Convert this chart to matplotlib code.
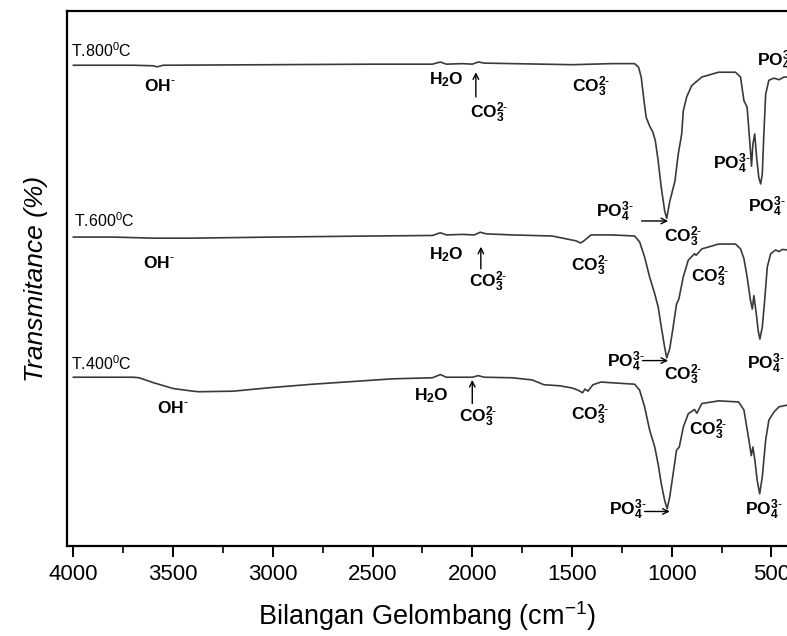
import matplotlib
matplotlib.use("Agg")
import matplotlib.pyplot as plt
from matplotlib.ticker import MultipleLocator

plt.rcParams['font.family'] = ['Liberation Sans', 'DejaVu Sans']
plt.rcParams['mathtext.fontset'] = 'custom'
plt.rcParams['mathtext.rm'] = 'Liberation Sans'
plt.rcParams['mathtext.it'] = 'Liberation Sans:italic'
plt.rcParams['mathtext.bf'] = 'Liberation Sans:bold'
plt.rcParams['mathtext.default'] = 'rm'

# spectra (wavenumber cm-1, transmittance in arbitrary %)
wn_800 = [4000, 3700, 3600, 3580, 3550, 3000, 2500, 2200, 2160, 2130, 2050, 2000, 1970, 1940,
          1800, 1500, 1300, 1186, 1166, 1153, 1139, 1128, 1111, 1094, 1082, 1068, 1052, 1035,
          1025, 1010, 984, 967, 950, 942, 925, 900, 849, 765, 680, 655, 638, 622, 605, 600,
          593, 584, 574, 563, 554, 546, 538, 529, 513, 488, 462, 437, 422]
t_800 = [89.9, 89.9, 89.8, 89.6, 89.9, 90.0, 90.1, 90.1, 90.5, 90.1, 90.2, 90.1, 90.5, 90.3,
         90.2, 90.0, 90.2, 90.2, 89.5, 87.7, 83.3, 80.2, 78.6, 77.4, 75.8, 72.1, 67.0, 62.7,
         61.4, 64.5, 68.3, 73.4, 77.1, 81.4, 84.0, 86.1, 87.7, 88.6, 88.6, 87.7, 83.3, 82.1,
         73.9, 71.1, 75.2, 77.1, 72.6, 68.9, 67.8, 69.6, 77.1, 84.5, 87.1, 87.5, 87.2, 87.7,
         87.7]

wn_600 = [4000, 3800, 3600, 3400, 3000, 2500, 2200, 2160, 2130, 2050, 1990, 1960, 1930, 1800,
          1600, 1520, 1480, 1457, 1440, 1405, 1300, 1186, 1161, 1136, 1111, 1085, 1068, 1052,
          1035, 1025, 1010, 993, 976, 964, 942, 917, 886, 878, 849, 765, 680, 655, 638, 622,
          605, 596, 588, 576, 566, 558, 546, 534, 521, 504, 479, 462, 445, 422]
t_600 = [57.9, 57.9, 57.7, 57.7, 57.9, 58.1, 58.2, 58.7, 58.3, 58.4, 58.3, 58.8, 58.5, 58.3,
         58.1, 57.5, 57.2, 56.8, 57.2, 58.3, 58.3, 58.1, 57.0, 54.2, 50.5, 47.3, 44.9, 41.1,
         37.3, 35.4, 37.1, 41.1, 45.4, 46.4, 50.5, 53.6, 54.8, 54.5, 55.7, 56.6, 56.6, 55.7,
         53.9, 50.5, 46.1, 44.5, 47.0, 43.6, 40.4, 38.9, 41.1, 46.1, 52.3, 54.8, 55.5, 55.2,
         55.6, 55.5]

wn_400 = [4000, 3700, 3670, 3600, 3500, 3400, 3370, 3200, 3000, 2800, 2600, 2400, 2200, 2160,
          2130, 2000, 1970, 1940, 1800, 1700, 1640, 1560, 1500, 1470, 1447, 1435, 1420, 1395,
          1355, 1186, 1161, 1136, 1111, 1085, 1068, 1052, 1035, 1023, 1010, 993, 976, 962,
          942, 917, 886, 874, 849, 765, 665, 638, 613, 601, 593, 583, 571, 559, 546, 529, 513,
          488, 462, 422]
t_400 = [31.8, 31.8, 31.7, 30.8, 29.7, 29.2, 29.1, 29.2, 29.9, 30.5, 31.0, 31.5, 31.7, 32.3,
         31.8, 31.8, 32.1, 31.8, 31.7, 31.3, 30.4, 30.2, 29.8, 29.4, 28.9, 29.6, 29.2, 30.4,
         30.9, 30.5, 29.4, 26.3, 22.0, 18.8, 15.6, 11.9, 8.8, 7.3, 9.5, 13.8, 18.2, 18.8,
         22.5, 25.0, 25.8, 25.1, 26.9, 27.4, 27.2, 25.7, 20.1, 17.2, 18.8, 16.3, 12.5, 10.1,
         13.2, 20.1, 23.8, 25.3, 26.3, 26.6]

curve_names = ['T.800$^0$C', 'T.600$^0$C', 'T.400$^0$C']

OH = r'$\mathbf{OH^{\text{-}}}$'
H2O = r'$\mathbf{H_2O}$'
CO3 = r'$\mathbf{CO_3^{2\text{-}}}$'
PO4 = r'$\mathbf{PO_4^{3\text{-}}}$'

fig = plt.figure(figsize=(7.87, 6.36), dpi=100)
ax = fig.add_axes([0.0851, 0.1415, 0.9149, 0.8412])

line_color = '#3a3a3a'
ax.plot(wn_800, t_800, color=line_color, lw=1.2)
ax.plot(wn_600, t_600, color=line_color, lw=1.2)
ax.plot(wn_400, t_400, color=line_color, lw=1.2)

ax.set_xlim(4032, 422)
ax.set_ylim(0.37, 100)

# curve names
ax.text(4010, 92.6, curve_names[0], fontsize=11.5, ha='left', va='center')
ax.text(3995, 61.0, curve_names[1], fontsize=11.5, ha='left', va='center')
ax.text(4010, 34.4, curve_names[2], fontsize=11.5, ha='left', va='center')

lab = dict(fontsize=12.5, ha='center', va='center')
# 800
ax.text(3565, 86.0, OH, **lab)
ax.text(2128, 87.3, H2O, **lab)
ax.text(1915, 81.0, CO3, **lab)
ax.text(1403, 85.8, CO3, **lab)
ax.text(1287, 62.6, PO4, **lab)
ax.text(942, 58.0, CO3, **lab)
ax.text(698, 71.5, PO4, **lab)
ax.text(522, 63.6, PO4, **lab)
ax.text(573, 90.8, PO4, fontsize=12.5, ha='left', va='center')
# 600
ax.text(3570, 53.1, OH, **lab)
ax.text(2128, 54.7, H2O, **lab)
ax.text(1920, 49.5, CO3, **lab)
ax.text(1408, 52.5, CO3, **lab)
ax.text(1229, 34.7, PO4, **lab)
ax.text(942, 32.3, CO3, **lab)
ax.text(807, 50.5, CO3, **lab)
ax.text(529, 34.3, PO4, **lab)
# 400
ax.text(3500, 26.0, OH, **lab)
ax.text(2205, 28.4, H2O, **lab)
ax.text(1970, 24.5, CO3, **lab)
ax.text(1408, 24.8, CO3, **lab)
ax.text(1221, 7.2, PO4, **lab)
ax.text(815, 22.0, CO3, **lab)
ax.text(538, 7.2, PO4, **lab)

arr = dict(arrowstyle='->', color='black', lw=1.0, shrinkA=0, shrinkB=0)
ax.annotate('', xy=(1982, 88.6), xytext=(1982, 84.0), arrowprops=arr)
ax.annotate('', xy=(1957, 56.1), xytext=(1957, 52.0), arrowprops=arr)
ax.annotate('', xy=(2000, 31.3), xytext=(2000, 26.9), arrowprops=arr)
ax.annotate('', xy=(1018, 60.9), xytext=(1151, 60.9), arrowprops=arr)
ax.annotate('', xy=(1018, 34.9), xytext=(1146, 34.9), arrowprops=arr)
ax.annotate('', xy=(1010, 6.8), xytext=(1136, 6.8), arrowprops=arr)

ax.spines['right'].set_visible(False)
for s in ['left', 'bottom', 'top']:
    ax.spines[s].set_linewidth(1.6)

ax.xaxis.set_major_locator(MultipleLocator(500))
ax.xaxis.set_minor_locator(MultipleLocator(250))
ax.tick_params(axis='x', which='major', direction='out', length=8, width=1.4, labelsize=16, pad=5)
ax.tick_params(axis='x', which='minor', direction='out', length=5, width=1.2)
ax.set_yticks([])

ax.set_xlabel('Bilangan Gelombang (cm$^{-1}$)', fontsize=19.5, labelpad=10)
ax.set_ylabel('Transmitance (%)', fontsize=19, style='italic', labelpad=14)

fig.savefig('out.png', dpi=100)
